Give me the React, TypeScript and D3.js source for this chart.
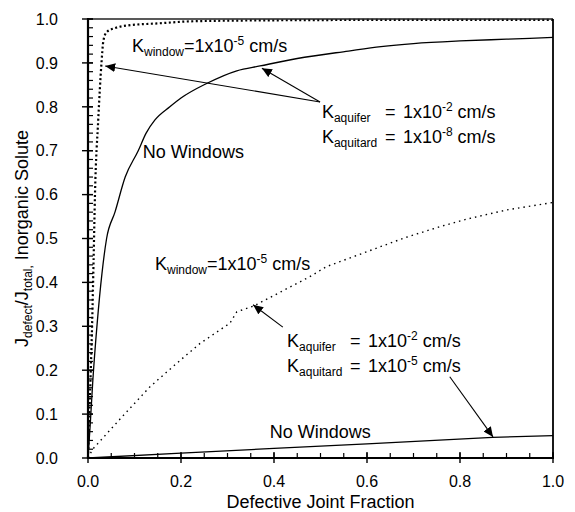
import React from 'react';
import * as d3 from 'd3';

// curve data: x = defective joint fraction, y = Jdefect/Jtotal
const windowTightX = [0, 0.003, 0.006, 0.009, 0.012, 0.015, 0.022, 0.029, 0.033, 0.04, 0.06, 0.083, 0.15, 0.23, 0.4, 0.7, 1.0];
const windowTightY = [0, 0.1, 0.2, 0.31, 0.45, 0.6, 0.77, 0.9, 0.95, 0.97, 0.98, 0.985, 0.99, 0.995, 0.997, 0.998, 0.998];

const noWinTightX = [0, 0.005, 0.01, 0.02, 0.03, 0.04, 0.058, 0.08, 0.108, 0.125, 0.144, 0.176, 0.2, 0.255, 0.32, 0.37, 0.45, 0.56, 0.63, 0.7, 0.8, 0.9, 1.0];
const noWinTightY = [0, 0.08, 0.17, 0.31, 0.42, 0.5, 0.56, 0.64, 0.7, 0.74, 0.77, 0.8, 0.82, 0.853, 0.882, 0.893, 0.91, 0.927, 0.937, 0.944, 0.95, 0.954, 0.958];

const windowLeakyX = [0, 0.01, 0.07, 0.133, 0.19, 0.241, 0.305, 0.32, 0.356, 0.477, 0.513, 0.6, 0.682, 0.757, 0.814, 0.9, 1.0];
const windowLeakyY = [0, 0.02, 0.09, 0.162, 0.215, 0.261, 0.307, 0.333, 0.346, 0.413, 0.436, 0.47, 0.502, 0.527, 0.544, 0.565, 0.582];

const noWinLeakyX = [0, 0.2, 0.4, 0.6, 0.87, 1.0];
const noWinLeakyY = [0, 0.011, 0.022, 0.032, 0.047, 0.051];

const xTicks = [0, 0.2, 0.4, 0.6, 0.8, 1.0];
const yTicks = [0, 0.1, 0.2, 0.3, 0.4, 0.5, 0.6, 0.7, 0.8, 0.9, 1.0];

const W = 575;
const H = 512;
const margin = { top: 19, right: 22, bottom: 54, left: 88 };

const zip = (xs: number[], ys: number[]) => xs.map((x, i) => [x, ys[i]] as [number, number]);

export default function App() {
  const x = d3.scaleLinear().domain([0, 1]).range([margin.left, W - margin.right]);
  const y = d3.scaleLinear().domain([0, 1]).range([H - margin.bottom, margin.top]);
  const x0 = x(0), x1 = x(1), y0 = y(0), y1 = y(1);

  const smooth = d3.line<[number, number]>().x(d => x(d[0])).y(d => y(d[1])).curve(d3.curveMonotoneX);
  const straight = d3.line<[number, number]>().x(d => x(d[0])).y(d => y(d[1]));

  const xMinor = d3.range(0, 1.0001, 0.05);
  const yMinor = d3.range(0, 1.0001, 0.02);

  const font = 'Arial, "Liberation Sans", Helvetica, sans-serif';

  // arrows: [fromX, fromY, toX, toY] in data units
  const arrows = [
    [0.499, 0.811, 0.037, 0.893],
    [0.499, 0.811, 0.374, 0.888],
    [0.419, 0.298, 0.355, 0.349],
    [0.778, 0.185, 0.871, 0.048],
  ];

  const kLabel = (ax: number, ay: number, sub: string, exp: string) => {
    const px = x(ax), py = y(ay);
    return (
      <text x={px} y={py} fontSize={18}>
        K<tspan dy={4} fontSize={12}>{sub}</tspan>
        <tspan x={px + 63} dy={-4}>=</tspan>
        <tspan x={px + 81}>1x10</tspan>
        <tspan dy={-7} fontSize={12}>{exp}</tspan>
        <tspan dy={7}>{'\u00a0cm/s'}</tspan>
      </text>
    );
  };

  const windowLabel = (ax: number, ay: number) => (
    <text x={x(ax)} y={y(ay)} fontSize={18}>
      K<tspan dy={4} fontSize={12}>window</tspan>
      <tspan dy={-4}>=1x10</tspan>
      <tspan dy={-7} fontSize={12}>-5</tspan>
      <tspan dy={7}>{'\u00a0cm/s'}</tspan>
    </text>
  );

  return (
    <svg width={W} height={H} style={{ position: 'absolute', left: 0, top: 0, background: '#fff' }} fontFamily={font}>
      <defs>
        <marker id="ah" markerUnits="userSpaceOnUse" markerWidth={11} markerHeight={9} refX={10} refY={4.5} orient="auto">
          <path d="M0,0 L10,4.5 L0,9 Z" fill="#000" />
        </marker>
      </defs>

      {/* curves */}
      <path d={smooth(zip(windowTightX, windowTightY)) || ''} fill="none" stroke="#000" strokeWidth={2.2} strokeDasharray="2 2.5" />
      <path d={smooth(zip(noWinTightX, noWinTightY)) || ''} fill="none" stroke="#000" strokeWidth={1.3} />
      <path d={straight(zip(windowLeakyX, windowLeakyY)) || ''} fill="none" stroke="#000" strokeWidth={1.4} strokeDasharray="1.5 4" />
      <path d={straight(zip(noWinLeakyX, noWinLeakyY)) || ''} fill="none" stroke="#000" strokeWidth={1.3} />

      {/* frame */}
      <line x1={x0} x2={x1} y1={y1} y2={y1} stroke="#222" strokeWidth={1.3} />
      <line x1={x1} x2={x1} y1={y1} y2={y0} stroke="#000" strokeWidth={1.8} />
      <line x1={x0} x2={x0} y1={y1 - 1} y2={y0 + 1} stroke="#000" strokeWidth={2.2} />
      <line x1={x0 - 1} x2={x1 + 1} y1={y0} y2={y0} stroke="#000" strokeWidth={2.2} />

      {/* x ticks */}
      {xMinor.map((v, i) => (
        <line key={'xm' + i} x1={x(v)} x2={x(v)} y1={y0} y2={y0 - 5} stroke="#000" strokeWidth={1.2} />
      ))}
      {xTicks.map(v => (
        <g key={'xt' + v}>
          <line x1={x(v)} x2={x(v)} y1={y0 + 5} y2={y0 - 6} stroke="#000" strokeWidth={1.4} />
          <text x={x(v)} y={487} textAnchor="middle" fontSize={16}>{v.toFixed(1)}</text>
        </g>
      ))}

      {/* y ticks */}
      {yMinor.map((v, i) => (
        <line key={'ym' + i} x1={x0} x2={x0 + 5} y1={y(v)} y2={y(v)} stroke="#000" strokeWidth={1.2} />
      ))}
      {yTicks.map(v => (
        <g key={'yt' + v}>
          <line x1={x0 - 6} x2={x0 + 5} y1={y(v)} y2={y(v)} stroke="#000" strokeWidth={1.4} />
          <text x={58} y={y(v)} dy="0.36em" textAnchor="end" fontSize={16}>{v.toFixed(1)}</text>
        </g>
      ))}

      {/* axis titles */}
      <text x={(x0 + x1) / 2} y={508} textAnchor="middle" fontSize={18}>Defective Joint Fraction</text>
      <text transform={`translate(28,${(y0 + y1) / 2}) rotate(-90)`} textAnchor="middle" fontSize={18}>
        J<tspan dy={4} fontSize={12}>defect</tspan>
        <tspan dy={-4}>/J</tspan>
        <tspan dy={4} fontSize={12}>total,</tspan>
        <tspan dy={-4}>{'\u00a0Inorganic Solute'}</tspan>
      </text>

      {/* arrows */}
      {arrows.map((a, i) => (
        <line key={'ar' + i} x1={x(a[0])} y1={y(a[1])} x2={x(a[2])} y2={y(a[3])} stroke="#000" strokeWidth={1.1} markerEnd="url(#ah)" />
      ))}

      {/* annotations */}
      {windowLabel(0.0946, 0.925)}
      {kLabel(0.503, 0.7745, 'aquifer', '-2')}
      {kLabel(0.503, 0.7175, 'aquitard', '-8')}
      <text x={x(0.118)} y={y(0.683)} fontSize={18}>No Windows</text>
      {windowLabel(0.144, 0.428)}
      {kLabel(0.428, 0.253, 'aquifer', '-2')}
      {kLabel(0.428, 0.196, 'aquitard', '-5')}
      <text x={x(0.391)} y={y(0.0456)} fontSize={18}>No Windows</text>
    </svg>
  );
}
